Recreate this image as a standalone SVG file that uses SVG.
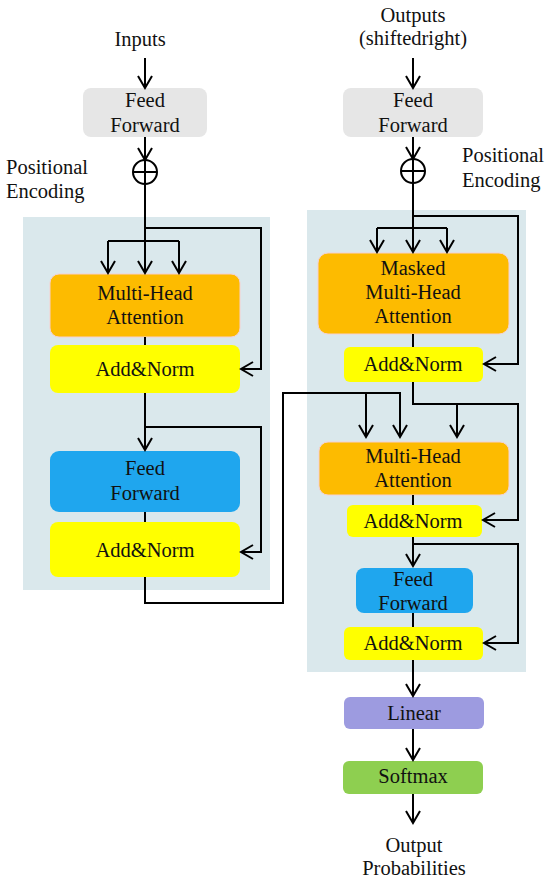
<svg xmlns="http://www.w3.org/2000/svg" width="550" height="882" viewBox="0 0 550 882">
<defs>
<marker id="ah" markerUnits="userSpaceOnUse" markerWidth="20" markerHeight="20" viewBox="-14 -10 16 20" refX="0" refY="0" orient="auto">
<path d="M-12,-7 L0,0 L-12,7" fill="none" stroke="#000" stroke-width="2"/>
</marker>
</defs>
<style>
text{font-family:"Liberation Serif","Times New Roman",serif;font-size:20.5px;fill:#111;}
.c{text-anchor:middle;}
.panel{fill:#dae8ec;}
.ff0{fill:#e6e6e6;}
.mha{fill:#fdbb00;stroke:#f6d0d0;stroke-width:1;}
.an{fill:#ffff00;}
.ff{fill:#1fa6ee;}
.lin{fill:#9d9be0;}
.sm{fill:#8ecf50;}
.ln{fill:none;stroke:#000;stroke-width:2;}
.ar{fill:none;stroke:#000;stroke-width:2;marker-end:url(#ah);}
</style>
<rect class="panel" x="23" y="217" width="247" height="373"/>
<rect class="panel" x="307" y="210" width="219" height="462"/>

<g id="inputs"><text class="c" x="140" y="46">Inputs</text></g>
<g id="outputs"><text class="c" x="413" y="22">Outputs</text><text class="c" x="413" y="45">(shiftedright)</text></g>
<g id="pe-left"><text x="6" y="174">Positional</text><text x="6" y="198">Encoding</text></g>
<g id="pe-right"><text x="462" y="162">Positional</text><text x="462" y="187">Encoding</text></g>

<g id="enc-embed"><rect class="ff0" x="83" y="88" width="124" height="49" rx="8"/><text class="c" x="145" y="107">Feed</text><text class="c" x="145" y="132">Forward</text></g>
<g id="enc-pe"><circle cx="145" cy="172" r="12" fill="#fff" stroke="#000" stroke-width="2"/><path class="ln" d="M133,172 H157 M145,160 V184"/></g>
<g id="enc-mha"><rect class="mha" x="50" y="274" width="190" height="63" rx="9"/><text class="c" x="145" y="300">Multi-Head</text><text class="c" x="145" y="324">Attention</text></g>
<g id="enc-an1"><rect class="an" x="50" y="345" width="190" height="48" rx="8"/><text class="c" x="145" y="376">Add&amp;Norm</text></g>
<g id="enc-ff"><rect class="ff" x="50" y="451" width="190" height="61" rx="9"/><text class="c" x="145" y="475">Feed</text><text class="c" x="145" y="500">Forward</text></g>
<g id="enc-an2"><rect class="an" x="50" y="522" width="190" height="55" rx="8"/><text class="c" x="145" y="557">Add&amp;Norm</text></g>

<g id="dec-embed"><rect class="ff0" x="343" y="88" width="140" height="49" rx="8"/><text class="c" x="413" y="107">Feed</text><text class="c" x="413" y="132">Forward</text></g>
<g id="dec-pe"><circle cx="413" cy="171" r="12" fill="#fff" stroke="#000" stroke-width="2"/><path class="ln" d="M401,171 H425 M413,159 V183"/></g>
<g id="dec-mmha"><rect class="mha" x="318" y="253" width="191" height="81" rx="10"/><text class="c" x="413" y="275">Masked</text><text class="c" x="413" y="299">Multi-Head</text><text class="c" x="413" y="323">Attention</text></g>
<g id="dec-an1"><rect class="an" x="344" y="347" width="139" height="35" rx="6"/><text class="c" x="413" y="371">Add&amp;Norm</text></g>
<g id="dec-mha"><rect class="mha" x="319" y="442" width="190" height="53" rx="9"/><text class="c" x="413" y="463">Multi-Head</text><text class="c" x="413" y="487">Attention</text></g>
<g id="dec-an2"><rect class="an" x="347" y="505" width="135" height="32" rx="6"/><text class="c" x="413" y="528">Add&amp;Norm</text></g>
<g id="dec-ff"><rect class="ff" x="356" y="568" width="117" height="45" rx="8"/><text class="c" x="413" y="586">Feed</text><text class="c" x="413" y="610">Forward</text></g>
<g id="dec-an3"><rect class="an" x="344" y="627" width="139" height="33" rx="6"/><text class="c" x="413" y="650">Add&amp;Norm</text></g>
<g id="linear"><rect class="lin" x="344" y="697" width="140" height="32" rx="6"/><text class="c" x="414" y="720">Linear</text></g>
<g id="softmax"><rect class="sm" x="343" y="761" width="140" height="33" rx="6"/><text class="c" x="413" y="783">Softmax</text></g>
<g id="out-prob"><text class="c" x="414" y="852">Output</text><text class="c" x="414" y="875">Probabilities</text></g>

<g id="connectors">
<path class="ar" d="M145,58 V88"/>
<path class="ar" d="M145,137 V160"/>
<path class="ar" d="M145,184 V273"/>
<path class="ar" d="M145,228 H261 V369 H241"/>
<path class="ln" d="M108,241 H179"/>
<path class="ar" d="M108,241 V273"/>
<path class="ar" d="M179,241 V273"/>
<path class="ln" d="M145,337 V345"/>
<path class="ar" d="M145,393 V450"/>
<path class="ar" d="M145,427 H261 V552 H241"/>
<path class="ln" d="M145,512 V522"/>
<path class="ar" d="M145,577 V603 H283 V393 H400 V437"/>
<path class="ar" d="M366,393 V437"/>

<path class="ar" d="M413,58 V88"/>
<path class="ar" d="M413,137 V159"/>
<path class="ar" d="M413,183 V252"/>
<path class="ar" d="M413,216 H518 V364 H484"/>
<path class="ln" d="M377,228 H447"/>
<path class="ar" d="M377,228 V252"/>
<path class="ar" d="M447,228 V252"/>
<path class="ln" d="M413,334 V347"/>
<path class="ar" d="M413,382 V404 H518 V520 H483"/>
<path class="ar" d="M457,404 V437"/>
<path class="ln" d="M413,495 V505"/>
<path class="ar" d="M413,537 V566"/>
<path class="ar" d="M413,544 H518 V643 H484"/>
<path class="ln" d="M413,613 V627"/>
<path class="ar" d="M413,660 V696"/>
<path class="ar" d="M413,729 V760"/>
<path class="ar" d="M413,794 V823"/>
</g>
</svg>
